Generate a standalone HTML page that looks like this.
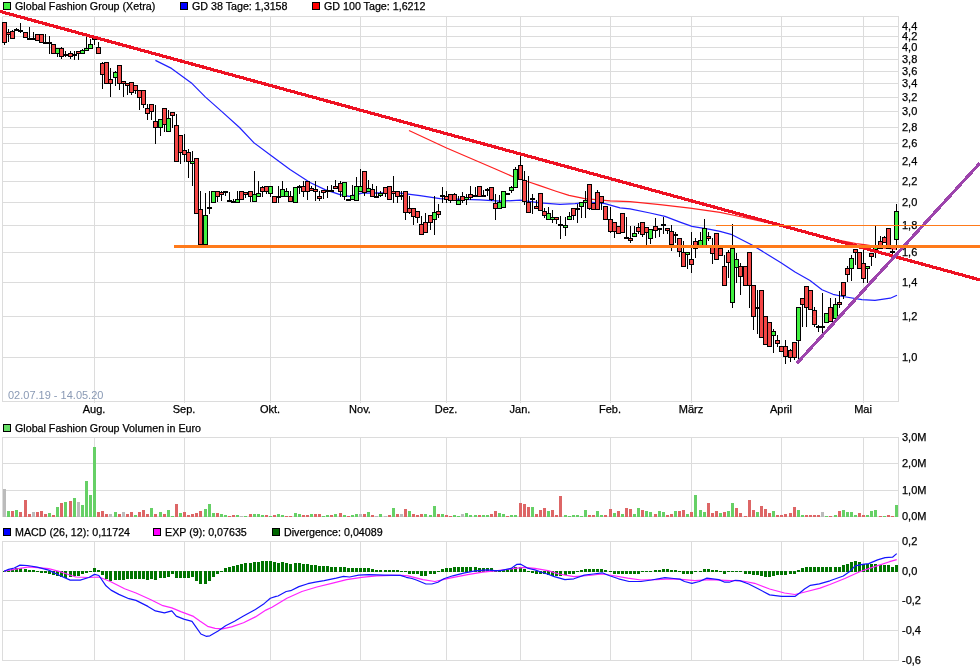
<!DOCTYPE html><html><head><meta charset="utf-8"><style>
html,body{margin:0;padding:0;background:#fff;width:980px;height:670px;overflow:hidden}
svg{display:block}
text{font-family:"Liberation Sans",sans-serif;fill:#000;stroke:#000;stroke-width:0.25px}
.lg{font-size:10.7px}.ax{font-size:11px}
</style></head><body>
<svg width="980" height="670" viewBox="0 0 980 670">
<rect width="980" height="670" fill="#fff"/>
<g shape-rendering="crispEdges"><rect x="2" y="357" width="897" height="1" fill="#dcdcdc"/><rect x="2" y="316" width="897" height="1" fill="#dcdcdc"/><rect x="2" y="282" width="897" height="1" fill="#dcdcdc"/><rect x="2" y="252" width="897" height="1" fill="#dcdcdc"/><rect x="2" y="225" width="897" height="1" fill="#dcdcdc"/><rect x="2" y="202" width="897" height="1" fill="#dcdcdc"/><rect x="2" y="181" width="897" height="1" fill="#dcdcdc"/><rect x="2" y="161" width="897" height="1" fill="#dcdcdc"/><rect x="2" y="143" width="897" height="1" fill="#dcdcdc"/><rect x="2" y="127" width="897" height="1" fill="#dcdcdc"/><rect x="2" y="111" width="897" height="1" fill="#dcdcdc"/><rect x="2" y="97" width="897" height="1" fill="#dcdcdc"/><rect x="2" y="83" width="897" height="1" fill="#dcdcdc"/><rect x="2" y="71" width="897" height="1" fill="#dcdcdc"/><rect x="2" y="59" width="897" height="1" fill="#dcdcdc"/><rect x="2" y="47" width="897" height="1" fill="#dcdcdc"/><rect x="2" y="36" width="897" height="1" fill="#dcdcdc"/><rect x="2" y="26" width="897" height="1" fill="#dcdcdc"/><rect x="94" y="16" width="1" height="387" fill="#dcdcdc"/><rect x="184" y="16" width="1" height="387" fill="#dcdcdc"/><rect x="270" y="16" width="1" height="387" fill="#dcdcdc"/><rect x="360" y="16" width="1" height="387" fill="#dcdcdc"/><rect x="446" y="16" width="1" height="387" fill="#dcdcdc"/><rect x="520" y="16" width="1" height="387" fill="#dcdcdc"/><rect x="610" y="16" width="1" height="387" fill="#dcdcdc"/><rect x="691" y="16" width="1" height="387" fill="#dcdcdc"/><rect x="781" y="16" width="1" height="387" fill="#dcdcdc"/><rect x="863" y="16" width="1" height="387" fill="#dcdcdc"/><rect x="2" y="16" width="897" height="1" fill="#dcdcdc"/><rect x="2" y="401" width="897" height="1" fill="#dcdcdc"/><rect x="2" y="16" width="1" height="386" fill="#dcdcdc"/><rect x="898" y="16" width="1" height="386" fill="#dcdcdc"/><rect x="2" y="437" width="897" height="1" fill="#dcdcdc"/><rect x="2" y="463" width="897" height="1" fill="#dcdcdc"/><rect x="2" y="490" width="897" height="1" fill="#dcdcdc"/><rect x="2" y="516" width="897" height="1" fill="#dcdcdc"/><rect x="94" y="437" width="1" height="80" fill="#dcdcdc"/><rect x="184" y="437" width="1" height="80" fill="#dcdcdc"/><rect x="270" y="437" width="1" height="80" fill="#dcdcdc"/><rect x="360" y="437" width="1" height="80" fill="#dcdcdc"/><rect x="446" y="437" width="1" height="80" fill="#dcdcdc"/><rect x="520" y="437" width="1" height="80" fill="#dcdcdc"/><rect x="610" y="437" width="1" height="80" fill="#dcdcdc"/><rect x="691" y="437" width="1" height="80" fill="#dcdcdc"/><rect x="781" y="437" width="1" height="80" fill="#dcdcdc"/><rect x="863" y="437" width="1" height="80" fill="#dcdcdc"/><rect x="2" y="437" width="1" height="80" fill="#dcdcdc"/><rect x="898" y="437" width="1" height="80" fill="#dcdcdc"/><rect x="2" y="541" width="897" height="1" fill="#dcdcdc"/><rect x="2" y="571" width="897" height="1" fill="#dcdcdc"/><rect x="2" y="600" width="897" height="1" fill="#dcdcdc"/><rect x="2" y="630" width="897" height="1" fill="#dcdcdc"/><rect x="2" y="660" width="897" height="1" fill="#dcdcdc"/><rect x="94" y="541" width="1" height="120" fill="#dcdcdc"/><rect x="184" y="541" width="1" height="120" fill="#dcdcdc"/><rect x="270" y="541" width="1" height="120" fill="#dcdcdc"/><rect x="360" y="541" width="1" height="120" fill="#dcdcdc"/><rect x="446" y="541" width="1" height="120" fill="#dcdcdc"/><rect x="520" y="541" width="1" height="120" fill="#dcdcdc"/><rect x="610" y="541" width="1" height="120" fill="#dcdcdc"/><rect x="691" y="541" width="1" height="120" fill="#dcdcdc"/><rect x="781" y="541" width="1" height="120" fill="#dcdcdc"/><rect x="863" y="541" width="1" height="120" fill="#dcdcdc"/><rect x="2" y="541" width="1" height="120" fill="#dcdcdc"/><rect x="898" y="541" width="1" height="120" fill="#dcdcdc"/></g>
<text class="ax" x="902" y="360.5">1,0</text><text class="ax" x="902" y="319.5">1,2</text><text class="ax" x="902" y="285.5">1,4</text><text class="ax" x="902" y="255.5">1,6</text><text class="ax" x="902" y="228.5">1,8</text><text class="ax" x="902" y="205.5">2,0</text><text class="ax" x="902" y="184.5">2,2</text><text class="ax" x="902" y="164.5">2,4</text><text class="ax" x="902" y="146.5">2,6</text><text class="ax" x="902" y="130.5">2,8</text><text class="ax" x="902" y="114.5">3,0</text><text class="ax" x="902" y="100.5">3,2</text><text class="ax" x="902" y="86.5">3,4</text><text class="ax" x="902" y="74.5">3,6</text><text class="ax" x="902" y="62.5">3,8</text><text class="ax" x="902" y="50.5">4,0</text><text class="ax" x="902" y="39.5">4,2</text><text class="ax" x="902" y="29.5">4,4</text><text class="ax" x="94" y="413" text-anchor="middle">Aug.</text><text class="ax" x="184" y="413" text-anchor="middle">Sep.</text><text class="ax" x="270" y="413" text-anchor="middle">Okt.</text><text class="ax" x="360" y="413" text-anchor="middle">Nov.</text><text class="ax" x="446" y="413" text-anchor="middle">Dez.</text><text class="ax" x="520" y="413" text-anchor="middle">Jan.</text><text class="ax" x="610" y="413" text-anchor="middle">Feb.</text><text class="ax" x="691" y="413" text-anchor="middle">März</text><text class="ax" x="781" y="413" text-anchor="middle">April</text><text class="ax" x="863" y="413" text-anchor="middle">Mai</text><text class="ax" x="902" y="440.5">3,0M</text><text class="ax" x="902" y="466.5">2,0M</text><text class="ax" x="902" y="493.5">1,0M</text><text class="ax" x="902" y="519.5">0,0M</text><text class="ax" x="902" y="544.5">0,2</text><text class="ax" x="902" y="574.5">0,0</text><text class="ax" x="902" y="603.5">-0,2</text><text class="ax" x="902" y="633.5">-0,4</text><text class="ax" x="902" y="663.5">-0,6</text><text class="ax" x="8" y="398.5" style="fill:#8a9ab5;stroke:none">02.07.19 - 14.05.20</text>
<rect x="3.5" y="2.5" width="7" height="7" fill="#40f040" stroke="#000" stroke-width="1" shape-rendering="crispEdges"/><text class="lg" x="15" y="9.8">Global Fashion Group (Xetra)</text>
<rect x="180.5" y="2.5" width="7" height="7" fill="#0000ff" stroke="#000" stroke-width="1" shape-rendering="crispEdges"/><text class="lg" x="192" y="9.8">GD 38 Tage: 1,3158</text>
<rect x="312.5" y="2.5" width="7" height="7" fill="#ff0000" stroke="#000" stroke-width="1" shape-rendering="crispEdges"/><text class="lg" x="324" y="9.8">GD 100 Tage: 1,6212</text>
<rect x="3.5" y="424.5" width="7" height="7" fill="#66dd66" stroke="#000" stroke-width="1" shape-rendering="crispEdges"/><text class="lg" x="15" y="431.8">Global Fashion Group Volumen in Euro</text>
<rect x="3.5" y="528.5" width="7" height="7" fill="#0000ff" stroke="#000" stroke-width="1" shape-rendering="crispEdges"/><text class="lg" x="15" y="535.8">MACD (26, 12): 0,11724</text>
<rect x="153.5" y="528.5" width="7" height="7" fill="#ff00ff" stroke="#000" stroke-width="1" shape-rendering="crispEdges"/><text class="lg" x="165" y="535.8">EXP (9): 0,07635</text>
<rect x="272.5" y="528.5" width="7" height="7" fill="#006600" stroke="#000" stroke-width="1" shape-rendering="crispEdges"/><text class="lg" x="284" y="535.8">Divergence: 0,04089</text>
<polyline points="155.4,60.4 171.5,68.4 192.1,83.6 205.5,97.1 221.6,111.4 239.5,127.5 253.8,142.7 271.7,156.1 290.0,169.6 310.0,182.5 325.0,189.6 340.0,194.6 349.4,196.3 362.0,193.1 380.0,192.9 400.0,193.2 420.0,195.7 440.0,198.6 480.0,199.8 500.0,201.2 520.0,200.2 540.0,202.9 560.0,204.3 575.0,203.6 590.0,202.0 605.0,203.6 620.0,207.9 630.0,208.9 650.0,213.0 665.0,216.4 680.0,222.1 692.0,226.4 710.0,229.3 720.0,231.4 731.0,234.3 752.0,245.0 781.0,262.7 795.0,271.9 810.0,280.5 822.0,289.8 833.0,294.3 843.0,296.5 861.9,299.7 875.0,300.3 890.3,298.2 897.0,295.3" fill="none" stroke="#2020ff" stroke-width="1.2" stroke-linejoin="round" />
<polyline points="409.0,130.5 446.6,148.0 478.0,161.5 496.0,169.2 512.5,176.5 529.0,182.0 539.0,185.4 556.0,191.2 569.0,195.4 584.7,198.6 596.0,199.7 610.0,200.8 630.0,201.6 660.0,204.6 690.0,208.1 720.0,212.4 735.0,215.5 780.0,225.5 828.0,238.0 856.0,243.6 866.0,244.8 885.0,248.1 897.0,249.2" fill="none" stroke="#ff2020" stroke-width="1.2" stroke-linejoin="round" />
<g shape-rendering="crispEdges"><rect x="4" y="22" width="1" height="23" fill="#000"/><rect x="2" y="22" width="5" height="21" fill="#000"/><rect x="3" y="23" width="3" height="19" fill="#f44646"/><rect x="8" y="29" width="1" height="13" fill="#000"/><rect x="6" y="32" width="5" height="3" fill="#000"/><rect x="7" y="33" width="3" height="1" fill="#f44646"/><rect x="12" y="30" width="1" height="9" fill="#000"/><rect x="10" y="31" width="5" height="8" fill="#000"/><rect x="11" y="32" width="3" height="6" fill="#f44646"/><rect x="16" y="28" width="1" height="3" fill="#000"/><rect x="14" y="29" width="5" height="2" fill="#000"/><rect x="20" y="23" width="1" height="10" fill="#000"/><rect x="18" y="30" width="5" height="2" fill="#000"/><rect x="25" y="32" width="1" height="6" fill="#000"/><rect x="23" y="32" width="5" height="6" fill="#000"/><rect x="24" y="33" width="3" height="4" fill="#f44646"/><rect x="29" y="27" width="1" height="13" fill="#000"/><rect x="27" y="38" width="5" height="2" fill="#000"/><rect x="33" y="32" width="1" height="8" fill="#000"/><rect x="31" y="38" width="5" height="2" fill="#000"/><rect x="37" y="34" width="1" height="7" fill="#000"/><rect x="35" y="34" width="5" height="7" fill="#000"/><rect x="36" y="35" width="3" height="5" fill="#f44646"/><rect x="41" y="34" width="1" height="9" fill="#000"/><rect x="39" y="34" width="5" height="9" fill="#000"/><rect x="40" y="35" width="3" height="7" fill="#f44646"/><rect x="45" y="34" width="1" height="10" fill="#000"/><rect x="43" y="42" width="5" height="2" fill="#000"/><rect x="49" y="36" width="1" height="18" fill="#000"/><rect x="47" y="42" width="5" height="2" fill="#000"/><rect x="53" y="44" width="1" height="10" fill="#000"/><rect x="51" y="44" width="5" height="10" fill="#000"/><rect x="52" y="45" width="3" height="8" fill="#f44646"/><rect x="57" y="48" width="1" height="9" fill="#000"/><rect x="55" y="48" width="5" height="6" fill="#000"/><rect x="56" y="49" width="3" height="4" fill="#40f040"/><rect x="61" y="47" width="1" height="12" fill="#000"/><rect x="59" y="48" width="5" height="9" fill="#000"/><rect x="60" y="49" width="3" height="7" fill="#f44646"/><rect x="65" y="51" width="1" height="6" fill="#000"/><rect x="63" y="54" width="5" height="2" fill="#000"/><rect x="70" y="51" width="1" height="8" fill="#000"/><rect x="68" y="53" width="5" height="4" fill="#000"/><rect x="69" y="54" width="3" height="2" fill="#f44646"/><rect x="74" y="51" width="1" height="9" fill="#000"/><rect x="72" y="54" width="5" height="2" fill="#000"/><rect x="78" y="51" width="1" height="9" fill="#000"/><rect x="76" y="51" width="5" height="3" fill="#000"/><rect x="77" y="52" width="3" height="1" fill="#f44646"/><rect x="82" y="49" width="1" height="5" fill="#000"/><rect x="80" y="50" width="5" height="4" fill="#000"/><rect x="81" y="51" width="3" height="2" fill="#40f040"/><rect x="86" y="37" width="1" height="14" fill="#000"/><rect x="84" y="48" width="5" height="3" fill="#000"/><rect x="85" y="49" width="3" height="1" fill="#40f040"/><rect x="90" y="39" width="1" height="10" fill="#000"/><rect x="88" y="44" width="5" height="5" fill="#000"/><rect x="89" y="45" width="3" height="3" fill="#40f040"/><rect x="94" y="37" width="1" height="8" fill="#000"/><rect x="92" y="38" width="5" height="2" fill="#000"/><rect x="98" y="42" width="1" height="12" fill="#000"/><rect x="96" y="47" width="5" height="7" fill="#000"/><rect x="97" y="48" width="3" height="5" fill="#f44646"/><rect x="102" y="62" width="1" height="27" fill="#000"/><rect x="100" y="63" width="5" height="12" fill="#000"/><rect x="101" y="64" width="3" height="10" fill="#f44646"/><rect x="106" y="62" width="1" height="22" fill="#000"/><rect x="104" y="62" width="5" height="22" fill="#000"/><rect x="105" y="63" width="3" height="20" fill="#f44646"/><rect x="110" y="68" width="1" height="29" fill="#000"/><rect x="108" y="79" width="5" height="5" fill="#000"/><rect x="109" y="80" width="3" height="3" fill="#f44646"/><rect x="115" y="71" width="1" height="15" fill="#000"/><rect x="113" y="72" width="5" height="6" fill="#000"/><rect x="114" y="73" width="3" height="4" fill="#40f040"/><rect x="119" y="65" width="1" height="25" fill="#000"/><rect x="117" y="65" width="5" height="19" fill="#000"/><rect x="118" y="66" width="3" height="17" fill="#f44646"/><rect x="123" y="81" width="1" height="16" fill="#000"/><rect x="121" y="81" width="5" height="3" fill="#000"/><rect x="122" y="82" width="3" height="1" fill="#f44646"/><rect x="127" y="83" width="1" height="12" fill="#000"/><rect x="125" y="83" width="5" height="3" fill="#000"/><rect x="126" y="84" width="3" height="1" fill="#f44646"/><rect x="131" y="82" width="1" height="13" fill="#000"/><rect x="129" y="82" width="5" height="11" fill="#000"/><rect x="130" y="83" width="3" height="9" fill="#f44646"/><rect x="135" y="85" width="1" height="9" fill="#000"/><rect x="133" y="85" width="5" height="6" fill="#000"/><rect x="134" y="86" width="3" height="4" fill="#f44646"/><rect x="139" y="90" width="1" height="20" fill="#000"/><rect x="137" y="90" width="5" height="8" fill="#000"/><rect x="138" y="91" width="3" height="6" fill="#f44646"/><rect x="143" y="90" width="1" height="18" fill="#000"/><rect x="141" y="90" width="5" height="15" fill="#000"/><rect x="142" y="91" width="3" height="13" fill="#f44646"/><rect x="147" y="104" width="1" height="16" fill="#000"/><rect x="145" y="108" width="5" height="6" fill="#000"/><rect x="146" y="109" width="3" height="4" fill="#f44646"/><rect x="151" y="104" width="1" height="16" fill="#000"/><rect x="149" y="104" width="5" height="8" fill="#000"/><rect x="150" y="105" width="3" height="6" fill="#f44646"/><rect x="155" y="105" width="1" height="39" fill="#000"/><rect x="153" y="121" width="5" height="7" fill="#000"/><rect x="154" y="122" width="3" height="5" fill="#f44646"/><rect x="160" y="119" width="1" height="17" fill="#000"/><rect x="158" y="119" width="5" height="9" fill="#000"/><rect x="159" y="120" width="3" height="7" fill="#40f040"/><rect x="164" y="108" width="1" height="24" fill="#000"/><rect x="162" y="108" width="5" height="17" fill="#000"/><rect x="163" y="109" width="3" height="15" fill="#f44646"/><rect x="168" y="110" width="1" height="22" fill="#000"/><rect x="166" y="118" width="5" height="14" fill="#000"/><rect x="167" y="119" width="3" height="12" fill="#40f040"/><rect x="172" y="112" width="1" height="16" fill="#000"/><rect x="170" y="112" width="5" height="4" fill="#000"/><rect x="171" y="113" width="3" height="2" fill="#f44646"/><rect x="176" y="114" width="1" height="48" fill="#000"/><rect x="174" y="125" width="5" height="37" fill="#000"/><rect x="175" y="126" width="3" height="35" fill="#f44646"/><rect x="180" y="135" width="1" height="29" fill="#000"/><rect x="178" y="135" width="5" height="18" fill="#000"/><rect x="179" y="136" width="3" height="16" fill="#f44646"/><rect x="184" y="134" width="1" height="28" fill="#000"/><rect x="182" y="150" width="5" height="5" fill="#000"/><rect x="183" y="151" width="3" height="3" fill="#f44646"/><rect x="188" y="149" width="1" height="29" fill="#000"/><rect x="186" y="152" width="5" height="10" fill="#000"/><rect x="187" y="153" width="3" height="8" fill="#f44646"/><rect x="192" y="151" width="1" height="35" fill="#000"/><rect x="190" y="161" width="5" height="3" fill="#000"/><rect x="191" y="162" width="3" height="1" fill="#40f040"/><rect x="196" y="158" width="1" height="56" fill="#000"/><rect x="194" y="158" width="5" height="56" fill="#000"/><rect x="195" y="159" width="3" height="54" fill="#f44646"/><rect x="200" y="191" width="1" height="54" fill="#000"/><rect x="198" y="209" width="5" height="36" fill="#000"/><rect x="199" y="210" width="3" height="34" fill="#f44646"/><rect x="205" y="193" width="1" height="52" fill="#000"/><rect x="203" y="215" width="5" height="30" fill="#000"/><rect x="204" y="216" width="3" height="28" fill="#40f040"/><rect x="209" y="191" width="1" height="23" fill="#000"/><rect x="207" y="207" width="5" height="2" fill="#000"/><rect x="213" y="191" width="1" height="12" fill="#000"/><rect x="211" y="191" width="5" height="12" fill="#000"/><rect x="212" y="192" width="3" height="10" fill="#40f040"/><rect x="217" y="191" width="1" height="11" fill="#000"/><rect x="215" y="191" width="5" height="6" fill="#000"/><rect x="216" y="192" width="3" height="4" fill="#f44646"/><rect x="221" y="191" width="1" height="10" fill="#000"/><rect x="219" y="192" width="5" height="3" fill="#000"/><rect x="220" y="193" width="3" height="1" fill="#f44646"/><rect x="225" y="191" width="1" height="5" fill="#000"/><rect x="223" y="191" width="5" height="2" fill="#000"/><rect x="229" y="192" width="1" height="10" fill="#000"/><rect x="227" y="200" width="5" height="2" fill="#000"/><rect x="233" y="199" width="1" height="4" fill="#000"/><rect x="231" y="201" width="5" height="2" fill="#000"/><rect x="237" y="191" width="1" height="12" fill="#000"/><rect x="235" y="199" width="5" height="4" fill="#000"/><rect x="236" y="200" width="3" height="2" fill="#40f040"/><rect x="241" y="191" width="1" height="9" fill="#000"/><rect x="239" y="191" width="5" height="9" fill="#000"/><rect x="240" y="192" width="3" height="7" fill="#f44646"/><rect x="245" y="192" width="1" height="6" fill="#000"/><rect x="243" y="192" width="5" height="3" fill="#000"/><rect x="244" y="193" width="3" height="1" fill="#f44646"/><rect x="250" y="191" width="1" height="11" fill="#000"/><rect x="248" y="191" width="5" height="6" fill="#000"/><rect x="249" y="192" width="3" height="4" fill="#f44646"/><rect x="254" y="171" width="1" height="31" fill="#000"/><rect x="252" y="194" width="5" height="8" fill="#000"/><rect x="253" y="195" width="3" height="6" fill="#40f040"/><rect x="258" y="181" width="1" height="16" fill="#000"/><rect x="256" y="193" width="5" height="4" fill="#000"/><rect x="257" y="194" width="3" height="2" fill="#40f040"/><rect x="262" y="186" width="1" height="11" fill="#000"/><rect x="260" y="187" width="5" height="5" fill="#000"/><rect x="261" y="188" width="3" height="3" fill="#f44646"/><rect x="266" y="186" width="1" height="8" fill="#000"/><rect x="264" y="186" width="5" height="6" fill="#000"/><rect x="265" y="187" width="3" height="4" fill="#f44646"/><rect x="270" y="186" width="1" height="11" fill="#000"/><rect x="268" y="186" width="5" height="8" fill="#000"/><rect x="269" y="187" width="3" height="6" fill="#40f040"/><rect x="274" y="196" width="1" height="7" fill="#000"/><rect x="272" y="196" width="5" height="7" fill="#000"/><rect x="273" y="197" width="3" height="5" fill="#f44646"/><rect x="278" y="186" width="1" height="17" fill="#000"/><rect x="276" y="196" width="5" height="2" fill="#000"/><rect x="282" y="181" width="1" height="16" fill="#000"/><rect x="280" y="189" width="5" height="8" fill="#000"/><rect x="281" y="190" width="3" height="6" fill="#40f040"/><rect x="286" y="188" width="1" height="9" fill="#000"/><rect x="284" y="191" width="5" height="6" fill="#000"/><rect x="285" y="192" width="3" height="4" fill="#40f040"/><rect x="290" y="191" width="1" height="11" fill="#000"/><rect x="288" y="196" width="5" height="6" fill="#000"/><rect x="289" y="197" width="3" height="4" fill="#f44646"/><rect x="295" y="187" width="1" height="16" fill="#000"/><rect x="293" y="187" width="5" height="16" fill="#000"/><rect x="294" y="188" width="3" height="14" fill="#40f040"/><rect x="299" y="185" width="1" height="9" fill="#000"/><rect x="297" y="186" width="5" height="2" fill="#000"/><rect x="303" y="181" width="1" height="16" fill="#000"/><rect x="301" y="186" width="5" height="6" fill="#000"/><rect x="302" y="187" width="3" height="4" fill="#f44646"/><rect x="307" y="181" width="1" height="19" fill="#000"/><rect x="305" y="181" width="5" height="11" fill="#000"/><rect x="306" y="182" width="3" height="9" fill="#f44646"/><rect x="311" y="186" width="1" height="5" fill="#000"/><rect x="309" y="188" width="5" height="3" fill="#000"/><rect x="310" y="189" width="3" height="1" fill="#f44646"/><rect x="315" y="181" width="1" height="20" fill="#000"/><rect x="313" y="189" width="5" height="3" fill="#000"/><rect x="314" y="190" width="3" height="1" fill="#f44646"/><rect x="319" y="191" width="1" height="10" fill="#000"/><rect x="317" y="196" width="5" height="3" fill="#000"/><rect x="318" y="197" width="3" height="1" fill="#f44646"/><rect x="323" y="190" width="1" height="9" fill="#000"/><rect x="321" y="190" width="5" height="3" fill="#000"/><rect x="322" y="191" width="3" height="1" fill="#f44646"/><rect x="327" y="186" width="1" height="12" fill="#000"/><rect x="325" y="190" width="5" height="2" fill="#000"/><rect x="331" y="185" width="1" height="7" fill="#000"/><rect x="329" y="190" width="5" height="2" fill="#000"/><rect x="335" y="180" width="1" height="9" fill="#000"/><rect x="333" y="186" width="5" height="3" fill="#000"/><rect x="334" y="187" width="3" height="1" fill="#f44646"/><rect x="340" y="181" width="1" height="16" fill="#000"/><rect x="338" y="183" width="5" height="9" fill="#000"/><rect x="339" y="184" width="3" height="7" fill="#f44646"/><rect x="344" y="182" width="1" height="18" fill="#000"/><rect x="342" y="182" width="5" height="15" fill="#000"/><rect x="343" y="183" width="3" height="13" fill="#40f040"/><rect x="348" y="199" width="1" height="2" fill="#000"/><rect x="346" y="199" width="5" height="2" fill="#000"/><rect x="352" y="185" width="1" height="15" fill="#000"/><rect x="350" y="195" width="5" height="5" fill="#000"/><rect x="351" y="196" width="3" height="3" fill="#40f040"/><rect x="356" y="177" width="1" height="24" fill="#000"/><rect x="354" y="186" width="5" height="15" fill="#000"/><rect x="355" y="187" width="3" height="13" fill="#40f040"/><rect x="360" y="169" width="1" height="23" fill="#000"/><rect x="358" y="186" width="5" height="6" fill="#000"/><rect x="359" y="187" width="3" height="4" fill="#40f040"/><rect x="364" y="171" width="1" height="25" fill="#000"/><rect x="362" y="171" width="5" height="22" fill="#000"/><rect x="363" y="172" width="3" height="20" fill="#f44646"/><rect x="368" y="180" width="1" height="12" fill="#000"/><rect x="366" y="188" width="5" height="4" fill="#000"/><rect x="367" y="189" width="3" height="2" fill="#40f040"/><rect x="372" y="184" width="1" height="13" fill="#000"/><rect x="370" y="189" width="5" height="8" fill="#000"/><rect x="371" y="190" width="3" height="6" fill="#f44646"/><rect x="376" y="186" width="1" height="12" fill="#000"/><rect x="374" y="196" width="5" height="2" fill="#000"/><rect x="380" y="191" width="1" height="6" fill="#000"/><rect x="378" y="193" width="5" height="3" fill="#000"/><rect x="379" y="194" width="3" height="1" fill="#40f040"/><rect x="385" y="187" width="1" height="10" fill="#000"/><rect x="383" y="187" width="5" height="7" fill="#000"/><rect x="384" y="188" width="3" height="5" fill="#f44646"/><rect x="389" y="186" width="1" height="14" fill="#000"/><rect x="387" y="186" width="5" height="14" fill="#000"/><rect x="388" y="187" width="3" height="12" fill="#f44646"/><rect x="393" y="176" width="1" height="27" fill="#000"/><rect x="391" y="191" width="5" height="3" fill="#000"/><rect x="392" y="192" width="3" height="1" fill="#f44646"/><rect x="397" y="191" width="1" height="12" fill="#000"/><rect x="395" y="191" width="5" height="6" fill="#000"/><rect x="396" y="192" width="3" height="4" fill="#f44646"/><rect x="401" y="191" width="1" height="9" fill="#000"/><rect x="399" y="195" width="5" height="2" fill="#000"/><rect x="405" y="191" width="1" height="29" fill="#000"/><rect x="403" y="191" width="5" height="22" fill="#000"/><rect x="404" y="192" width="3" height="20" fill="#f44646"/><rect x="409" y="196" width="1" height="18" fill="#000"/><rect x="407" y="208" width="5" height="5" fill="#000"/><rect x="408" y="209" width="3" height="3" fill="#f44646"/><rect x="413" y="208" width="1" height="17" fill="#000"/><rect x="411" y="208" width="5" height="9" fill="#000"/><rect x="412" y="209" width="3" height="7" fill="#f44646"/><rect x="417" y="211" width="1" height="12" fill="#000"/><rect x="415" y="211" width="5" height="7" fill="#000"/><rect x="416" y="212" width="3" height="5" fill="#f44646"/><rect x="421" y="216" width="1" height="19" fill="#000"/><rect x="419" y="224" width="5" height="11" fill="#000"/><rect x="420" y="225" width="3" height="9" fill="#f44646"/><rect x="425" y="213" width="1" height="20" fill="#000"/><rect x="423" y="222" width="5" height="11" fill="#000"/><rect x="424" y="223" width="3" height="9" fill="#f44646"/><rect x="430" y="215" width="1" height="15" fill="#000"/><rect x="428" y="215" width="5" height="8" fill="#000"/><rect x="429" y="216" width="3" height="6" fill="#f44646"/><rect x="434" y="196" width="1" height="39" fill="#000"/><rect x="432" y="212" width="5" height="8" fill="#000"/><rect x="433" y="213" width="3" height="6" fill="#40f040"/><rect x="438" y="204" width="1" height="14" fill="#000"/><rect x="436" y="211" width="5" height="4" fill="#000"/><rect x="437" y="212" width="3" height="2" fill="#f44646"/><rect x="442" y="187" width="1" height="16" fill="#000"/><rect x="440" y="195" width="5" height="2" fill="#000"/><rect x="446" y="191" width="1" height="12" fill="#000"/><rect x="444" y="196" width="5" height="4" fill="#000"/><rect x="445" y="197" width="3" height="2" fill="#f44646"/><rect x="450" y="194" width="1" height="9" fill="#000"/><rect x="448" y="194" width="5" height="7" fill="#000"/><rect x="449" y="195" width="3" height="5" fill="#f44646"/><rect x="454" y="193" width="1" height="8" fill="#000"/><rect x="452" y="194" width="5" height="7" fill="#000"/><rect x="453" y="195" width="3" height="5" fill="#f44646"/><rect x="458" y="196" width="1" height="9" fill="#000"/><rect x="456" y="200" width="5" height="5" fill="#000"/><rect x="457" y="201" width="3" height="3" fill="#40f040"/><rect x="462" y="192" width="1" height="11" fill="#000"/><rect x="460" y="196" width="5" height="5" fill="#000"/><rect x="461" y="197" width="3" height="3" fill="#f44646"/><rect x="466" y="194" width="1" height="11" fill="#000"/><rect x="464" y="197" width="5" height="3" fill="#000"/><rect x="465" y="198" width="3" height="1" fill="#40f040"/><rect x="470" y="186" width="1" height="14" fill="#000"/><rect x="468" y="194" width="5" height="4" fill="#000"/><rect x="469" y="195" width="3" height="2" fill="#f44646"/><rect x="475" y="187" width="1" height="10" fill="#000"/><rect x="473" y="195" width="5" height="2" fill="#000"/><rect x="479" y="186" width="1" height="11" fill="#000"/><rect x="477" y="186" width="5" height="11" fill="#000"/><rect x="478" y="187" width="3" height="9" fill="#f44646"/><rect x="483" y="190" width="1" height="7" fill="#000"/><rect x="481" y="195" width="5" height="2" fill="#000"/><rect x="487" y="188" width="1" height="8" fill="#000"/><rect x="485" y="189" width="5" height="2" fill="#000"/><rect x="491" y="187" width="1" height="14" fill="#000"/><rect x="489" y="187" width="5" height="13" fill="#000"/><rect x="490" y="188" width="3" height="11" fill="#f44646"/><rect x="495" y="194" width="1" height="26" fill="#000"/><rect x="493" y="203" width="5" height="6" fill="#000"/><rect x="494" y="204" width="3" height="4" fill="#f44646"/><rect x="499" y="195" width="1" height="14" fill="#000"/><rect x="497" y="202" width="5" height="7" fill="#000"/><rect x="498" y="203" width="3" height="5" fill="#40f040"/><rect x="503" y="191" width="1" height="17" fill="#000"/><rect x="501" y="191" width="5" height="17" fill="#000"/><rect x="502" y="192" width="3" height="15" fill="#40f040"/><rect x="507" y="193" width="1" height="2" fill="#000"/><rect x="505" y="193" width="5" height="2" fill="#000"/><rect x="511" y="186" width="1" height="7" fill="#000"/><rect x="509" y="187" width="5" height="4" fill="#000"/><rect x="510" y="188" width="3" height="2" fill="#40f040"/><rect x="515" y="167" width="1" height="21" fill="#000"/><rect x="513" y="169" width="5" height="19" fill="#000"/><rect x="514" y="170" width="3" height="17" fill="#40f040"/><rect x="520" y="155" width="1" height="25" fill="#000"/><rect x="518" y="165" width="5" height="15" fill="#000"/><rect x="519" y="166" width="3" height="13" fill="#f44646"/><rect x="524" y="171" width="1" height="34" fill="#000"/><rect x="522" y="180" width="5" height="22" fill="#000"/><rect x="523" y="181" width="3" height="20" fill="#f44646"/><rect x="528" y="176" width="1" height="37" fill="#000"/><rect x="526" y="202" width="5" height="11" fill="#000"/><rect x="527" y="203" width="3" height="9" fill="#f44646"/><rect x="532" y="194" width="1" height="20" fill="#000"/><rect x="530" y="198" width="5" height="2" fill="#000"/><rect x="536" y="200" width="1" height="9" fill="#000"/><rect x="534" y="206" width="5" height="3" fill="#000"/><rect x="535" y="207" width="3" height="1" fill="#f44646"/><rect x="540" y="193" width="1" height="18" fill="#000"/><rect x="538" y="193" width="5" height="18" fill="#000"/><rect x="539" y="194" width="3" height="16" fill="#f44646"/><rect x="544" y="208" width="1" height="10" fill="#000"/><rect x="542" y="211" width="5" height="5" fill="#000"/><rect x="543" y="212" width="3" height="3" fill="#f44646"/><rect x="548" y="207" width="1" height="13" fill="#000"/><rect x="546" y="213" width="5" height="7" fill="#000"/><rect x="547" y="214" width="3" height="5" fill="#40f040"/><rect x="552" y="210" width="1" height="13" fill="#000"/><rect x="550" y="217" width="5" height="3" fill="#000"/><rect x="551" y="218" width="3" height="1" fill="#40f040"/><rect x="556" y="217" width="1" height="7" fill="#000"/><rect x="554" y="217" width="5" height="3" fill="#000"/><rect x="555" y="218" width="3" height="1" fill="#f44646"/><rect x="560" y="216" width="1" height="23" fill="#000"/><rect x="558" y="224" width="5" height="2" fill="#000"/><rect x="565" y="217" width="1" height="19" fill="#000"/><rect x="563" y="225" width="5" height="3" fill="#000"/><rect x="564" y="226" width="3" height="1" fill="#40f040"/><rect x="569" y="212" width="1" height="8" fill="#000"/><rect x="567" y="216" width="5" height="4" fill="#000"/><rect x="568" y="217" width="3" height="2" fill="#40f040"/><rect x="573" y="208" width="1" height="12" fill="#000"/><rect x="571" y="208" width="5" height="8" fill="#000"/><rect x="572" y="209" width="3" height="6" fill="#f44646"/><rect x="577" y="204" width="1" height="19" fill="#000"/><rect x="575" y="208" width="5" height="2" fill="#000"/><rect x="581" y="202" width="1" height="16" fill="#000"/><rect x="579" y="202" width="5" height="5" fill="#000"/><rect x="580" y="203" width="3" height="3" fill="#40f040"/><rect x="585" y="191" width="1" height="27" fill="#000"/><rect x="583" y="200" width="5" height="3" fill="#000"/><rect x="584" y="201" width="3" height="1" fill="#40f040"/><rect x="589" y="184" width="1" height="26" fill="#000"/><rect x="587" y="184" width="5" height="25" fill="#000"/><rect x="588" y="185" width="3" height="23" fill="#f44646"/><rect x="593" y="203" width="1" height="7" fill="#000"/><rect x="591" y="203" width="5" height="7" fill="#000"/><rect x="592" y="204" width="3" height="5" fill="#f44646"/><rect x="597" y="190" width="1" height="20" fill="#000"/><rect x="595" y="192" width="5" height="18" fill="#000"/><rect x="596" y="193" width="3" height="16" fill="#f44646"/><rect x="601" y="196" width="1" height="14" fill="#000"/><rect x="599" y="196" width="5" height="7" fill="#000"/><rect x="600" y="197" width="3" height="5" fill="#f44646"/><rect x="605" y="206" width="1" height="14" fill="#000"/><rect x="603" y="206" width="5" height="14" fill="#000"/><rect x="604" y="207" width="3" height="12" fill="#f44646"/><rect x="610" y="207" width="1" height="26" fill="#000"/><rect x="608" y="219" width="5" height="13" fill="#000"/><rect x="609" y="220" width="3" height="11" fill="#f44646"/><rect x="614" y="222" width="1" height="16" fill="#000"/><rect x="612" y="222" width="5" height="10" fill="#000"/><rect x="613" y="223" width="3" height="8" fill="#f44646"/><rect x="618" y="226" width="1" height="8" fill="#000"/><rect x="616" y="226" width="5" height="8" fill="#000"/><rect x="617" y="227" width="3" height="6" fill="#f44646"/><rect x="622" y="213" width="1" height="20" fill="#000"/><rect x="620" y="213" width="5" height="20" fill="#000"/><rect x="621" y="214" width="3" height="18" fill="#f44646"/><rect x="626" y="217" width="1" height="22" fill="#000"/><rect x="624" y="237" width="5" height="2" fill="#000"/><rect x="630" y="226" width="1" height="17" fill="#000"/><rect x="628" y="238" width="5" height="3" fill="#000"/><rect x="629" y="239" width="3" height="1" fill="#f44646"/><rect x="634" y="226" width="1" height="11" fill="#000"/><rect x="632" y="233" width="5" height="4" fill="#000"/><rect x="633" y="234" width="3" height="2" fill="#40f040"/><rect x="638" y="223" width="1" height="11" fill="#000"/><rect x="636" y="227" width="5" height="5" fill="#000"/><rect x="637" y="228" width="3" height="3" fill="#f44646"/><rect x="642" y="222" width="1" height="15" fill="#000"/><rect x="640" y="222" width="5" height="13" fill="#000"/><rect x="641" y="223" width="3" height="11" fill="#f44646"/><rect x="646" y="227" width="1" height="18" fill="#000"/><rect x="644" y="227" width="5" height="6" fill="#000"/><rect x="645" y="228" width="3" height="4" fill="#f44646"/><rect x="650" y="229" width="1" height="15" fill="#000"/><rect x="648" y="229" width="5" height="10" fill="#000"/><rect x="649" y="230" width="3" height="8" fill="#40f040"/><rect x="655" y="218" width="1" height="20" fill="#000"/><rect x="653" y="226" width="5" height="5" fill="#000"/><rect x="654" y="227" width="3" height="3" fill="#f44646"/><rect x="659" y="228" width="1" height="9" fill="#000"/><rect x="657" y="228" width="5" height="2" fill="#000"/><rect x="663" y="217" width="1" height="17" fill="#000"/><rect x="661" y="224" width="5" height="2" fill="#000"/><rect x="667" y="228" width="1" height="6" fill="#000"/><rect x="665" y="228" width="5" height="3" fill="#000"/><rect x="666" y="229" width="3" height="1" fill="#f44646"/><rect x="671" y="225" width="1" height="26" fill="#000"/><rect x="669" y="231" width="5" height="14" fill="#000"/><rect x="670" y="232" width="3" height="12" fill="#f44646"/><rect x="675" y="232" width="1" height="11" fill="#000"/><rect x="673" y="234" width="5" height="2" fill="#000"/><rect x="679" y="238" width="1" height="19" fill="#000"/><rect x="677" y="238" width="5" height="14" fill="#000"/><rect x="678" y="239" width="3" height="12" fill="#f44646"/><rect x="683" y="241" width="1" height="26" fill="#000"/><rect x="681" y="252" width="5" height="15" fill="#000"/><rect x="682" y="253" width="3" height="13" fill="#f44646"/><rect x="687" y="252" width="1" height="17" fill="#000"/><rect x="685" y="252" width="5" height="3" fill="#000"/><rect x="686" y="253" width="3" height="1" fill="#40f040"/><rect x="691" y="232" width="1" height="41" fill="#000"/><rect x="689" y="259" width="5" height="6" fill="#000"/><rect x="690" y="260" width="3" height="4" fill="#f44646"/><rect x="695" y="238" width="1" height="20" fill="#000"/><rect x="693" y="241" width="5" height="8" fill="#000"/><rect x="694" y="242" width="3" height="6" fill="#f44646"/><rect x="700" y="232" width="1" height="14" fill="#000"/><rect x="698" y="240" width="5" height="6" fill="#000"/><rect x="699" y="241" width="3" height="4" fill="#40f040"/><rect x="704" y="219" width="1" height="27" fill="#000"/><rect x="702" y="228" width="5" height="18" fill="#000"/><rect x="703" y="229" width="3" height="16" fill="#40f040"/><rect x="708" y="232" width="1" height="9" fill="#000"/><rect x="706" y="236" width="5" height="3" fill="#000"/><rect x="707" y="237" width="3" height="1" fill="#f44646"/><rect x="712" y="238" width="1" height="26" fill="#000"/><rect x="710" y="245" width="5" height="9" fill="#000"/><rect x="711" y="246" width="3" height="7" fill="#f44646"/><rect x="716" y="233" width="1" height="27" fill="#000"/><rect x="714" y="233" width="5" height="27" fill="#000"/><rect x="715" y="234" width="3" height="25" fill="#f44646"/><rect x="720" y="248" width="1" height="8" fill="#000"/><rect x="718" y="248" width="5" height="8" fill="#000"/><rect x="719" y="249" width="3" height="6" fill="#f44646"/><rect x="724" y="255" width="1" height="31" fill="#000"/><rect x="722" y="266" width="5" height="20" fill="#000"/><rect x="723" y="267" width="3" height="18" fill="#f44646"/><rect x="728" y="250" width="1" height="28" fill="#000"/><rect x="726" y="252" width="5" height="11" fill="#000"/><rect x="727" y="253" width="3" height="9" fill="#f44646"/><rect x="732" y="224" width="1" height="84" fill="#000"/><rect x="730" y="248" width="5" height="55" fill="#000"/><rect x="731" y="249" width="3" height="53" fill="#40f040"/><rect x="736" y="253" width="1" height="30" fill="#000"/><rect x="734" y="259" width="5" height="9" fill="#000"/><rect x="735" y="260" width="3" height="7" fill="#40f040"/><rect x="740" y="263" width="1" height="32" fill="#000"/><rect x="738" y="266" width="5" height="11" fill="#000"/><rect x="739" y="267" width="3" height="9" fill="#f44646"/><rect x="745" y="266" width="1" height="20" fill="#000"/><rect x="743" y="266" width="5" height="20" fill="#000"/><rect x="744" y="267" width="3" height="18" fill="#f44646"/><rect x="749" y="252" width="1" height="56" fill="#000"/><rect x="747" y="252" width="5" height="34" fill="#000"/><rect x="748" y="253" width="3" height="32" fill="#f44646"/><rect x="753" y="285" width="1" height="45" fill="#000"/><rect x="751" y="285" width="5" height="32" fill="#000"/><rect x="752" y="286" width="3" height="30" fill="#f44646"/><rect x="757" y="290" width="1" height="44" fill="#000"/><rect x="755" y="307" width="5" height="2" fill="#000"/><rect x="761" y="290" width="1" height="48" fill="#000"/><rect x="759" y="290" width="5" height="48" fill="#000"/><rect x="760" y="291" width="3" height="46" fill="#f44646"/><rect x="765" y="316" width="1" height="29" fill="#000"/><rect x="763" y="316" width="5" height="29" fill="#000"/><rect x="764" y="317" width="3" height="27" fill="#f44646"/><rect x="769" y="322" width="1" height="25" fill="#000"/><rect x="767" y="322" width="5" height="25" fill="#000"/><rect x="768" y="323" width="3" height="23" fill="#f44646"/><rect x="773" y="329" width="1" height="24" fill="#000"/><rect x="771" y="331" width="5" height="5" fill="#000"/><rect x="772" y="332" width="3" height="3" fill="#40f040"/><rect x="777" y="335" width="1" height="12" fill="#000"/><rect x="775" y="340" width="5" height="4" fill="#000"/><rect x="776" y="341" width="3" height="2" fill="#f44646"/><rect x="781" y="346" width="1" height="6" fill="#000"/><rect x="779" y="346" width="5" height="6" fill="#000"/><rect x="780" y="347" width="3" height="4" fill="#f44646"/><rect x="785" y="340" width="1" height="24" fill="#000"/><rect x="783" y="346" width="5" height="11" fill="#000"/><rect x="784" y="347" width="3" height="9" fill="#f44646"/><rect x="790" y="349" width="1" height="13" fill="#000"/><rect x="788" y="350" width="5" height="8" fill="#000"/><rect x="789" y="351" width="3" height="6" fill="#f44646"/><rect x="794" y="342" width="1" height="18" fill="#000"/><rect x="792" y="342" width="5" height="16" fill="#000"/><rect x="793" y="343" width="3" height="14" fill="#f44646"/><rect x="798" y="307" width="1" height="53" fill="#000"/><rect x="796" y="307" width="5" height="34" fill="#000"/><rect x="797" y="308" width="3" height="32" fill="#40f040"/><rect x="802" y="298" width="1" height="29" fill="#000"/><rect x="800" y="298" width="5" height="7" fill="#000"/><rect x="801" y="299" width="3" height="5" fill="#f44646"/><rect x="806" y="286" width="1" height="41" fill="#000"/><rect x="804" y="286" width="5" height="22" fill="#000"/><rect x="805" y="287" width="3" height="20" fill="#f44646"/><rect x="810" y="290" width="1" height="20" fill="#000"/><rect x="808" y="290" width="5" height="20" fill="#000"/><rect x="809" y="291" width="3" height="18" fill="#f44646"/><rect x="814" y="307" width="1" height="20" fill="#000"/><rect x="812" y="310" width="5" height="15" fill="#000"/><rect x="813" y="311" width="3" height="13" fill="#f44646"/><rect x="818" y="325" width="1" height="7" fill="#000"/><rect x="816" y="326" width="5" height="2" fill="#000"/><rect x="822" y="293" width="1" height="40" fill="#000"/><rect x="820" y="326" width="5" height="2" fill="#000"/><rect x="826" y="313" width="1" height="10" fill="#000"/><rect x="824" y="313" width="5" height="10" fill="#000"/><rect x="825" y="314" width="3" height="8" fill="#40f040"/><rect x="830" y="298" width="1" height="24" fill="#000"/><rect x="828" y="307" width="5" height="15" fill="#000"/><rect x="829" y="308" width="3" height="13" fill="#f44646"/><rect x="835" y="298" width="1" height="21" fill="#000"/><rect x="833" y="304" width="5" height="15" fill="#000"/><rect x="834" y="305" width="3" height="13" fill="#40f040"/><rect x="839" y="291" width="1" height="17" fill="#000"/><rect x="837" y="302" width="5" height="3" fill="#000"/><rect x="838" y="303" width="3" height="1" fill="#f44646"/><rect x="843" y="282" width="1" height="17" fill="#000"/><rect x="841" y="282" width="5" height="14" fill="#000"/><rect x="842" y="283" width="3" height="12" fill="#f44646"/><rect x="847" y="266" width="1" height="16" fill="#000"/><rect x="845" y="268" width="5" height="7" fill="#000"/><rect x="846" y="269" width="3" height="5" fill="#f44646"/><rect x="851" y="255" width="1" height="26" fill="#000"/><rect x="849" y="258" width="5" height="11" fill="#000"/><rect x="850" y="259" width="3" height="9" fill="#40f040"/><rect x="855" y="249" width="1" height="16" fill="#000"/><rect x="853" y="249" width="5" height="4" fill="#000"/><rect x="854" y="250" width="3" height="2" fill="#f44646"/><rect x="859" y="252" width="1" height="17" fill="#000"/><rect x="857" y="252" width="5" height="17" fill="#000"/><rect x="858" y="253" width="3" height="15" fill="#f44646"/><rect x="863" y="250" width="1" height="33" fill="#000"/><rect x="861" y="263" width="5" height="16" fill="#000"/><rect x="862" y="264" width="3" height="14" fill="#f44646"/><rect x="867" y="266" width="1" height="17" fill="#000"/><rect x="865" y="266" width="5" height="3" fill="#000"/><rect x="866" y="267" width="3" height="1" fill="#40f040"/><rect x="871" y="253" width="1" height="13" fill="#000"/><rect x="869" y="253" width="5" height="4" fill="#000"/><rect x="870" y="254" width="3" height="2" fill="#f44646"/><rect x="875" y="226" width="1" height="32" fill="#000"/><rect x="873" y="247" width="5" height="3" fill="#000"/><rect x="874" y="248" width="3" height="1" fill="#40f040"/><rect x="880" y="236" width="1" height="13" fill="#000"/><rect x="878" y="241" width="5" height="8" fill="#000"/><rect x="879" y="242" width="3" height="6" fill="#f44646"/><rect x="884" y="236" width="1" height="7" fill="#000"/><rect x="882" y="237" width="5" height="6" fill="#000"/><rect x="883" y="238" width="3" height="4" fill="#f44646"/><rect x="888" y="228" width="1" height="21" fill="#000"/><rect x="886" y="228" width="5" height="21" fill="#000"/><rect x="887" y="229" width="3" height="19" fill="#f44646"/><rect x="892" y="249" width="1" height="5" fill="#000"/><rect x="890" y="251" width="5" height="2" fill="#000"/><rect x="896" y="204" width="1" height="46" fill="#000"/><rect x="894" y="211" width="5" height="29" fill="#000"/><rect x="895" y="212" width="3" height="27" fill="#40f040"/></g>
<line x1="0" y1="11.4" x2="980" y2="279.9" stroke="#ee1122" stroke-width="3.2" shape-rendering="crispEdges"/>
<line x1="797" y1="363.2" x2="980" y2="163.0" stroke="#9d44ac" stroke-width="3.2" shape-rendering="crispEdges"/>
<line x1="174" y1="246.5" x2="980" y2="246.5" stroke="#ff7a1a" stroke-width="3" shape-rendering="crispEdges"/>
<line x1="716" y1="225.5" x2="980" y2="225.5" stroke="#ff7a1a" stroke-width="1" shape-rendering="crispEdges"/>
<g shape-rendering="crispEdges"><rect x="3" y="489" width="3" height="28" fill="#bbbbbb"/><rect x="7" y="511" width="3" height="6" fill="#66d066"/><rect x="11" y="511" width="3" height="6" fill="#dd6666"/><rect x="15" y="510" width="3" height="7" fill="#66d066"/><rect x="19" y="512" width="3" height="5" fill="#dd6666"/><rect x="24" y="500" width="3" height="17" fill="#dd6666"/><rect x="28" y="514" width="3" height="3" fill="#dd6666"/><rect x="32" y="512" width="3" height="5" fill="#bbbbbb"/><rect x="36" y="512" width="3" height="5" fill="#dd6666"/><rect x="40" y="511" width="3" height="6" fill="#dd6666"/><rect x="44" y="514" width="3" height="3" fill="#dd6666"/><rect x="48" y="513" width="3" height="4" fill="#66d066"/><rect x="52" y="515" width="3" height="2" fill="#dd6666"/><rect x="56" y="507" width="3" height="10" fill="#66d066"/><rect x="60" y="503" width="3" height="14" fill="#dd6666"/><rect x="64" y="502" width="3" height="15" fill="#66d066"/><rect x="69" y="501" width="3" height="16" fill="#dd6666"/><rect x="73" y="498" width="3" height="19" fill="#66d066"/><rect x="77" y="502" width="3" height="15" fill="#bbbbbb"/><rect x="81" y="505" width="3" height="12" fill="#66d066"/><rect x="85" y="481" width="3" height="36" fill="#66d066"/><rect x="89" y="495" width="3" height="22" fill="#66d066"/><rect x="93" y="447" width="3" height="70" fill="#66d066"/><rect x="97" y="512" width="3" height="5" fill="#dd6666"/><rect x="101" y="511" width="3" height="6" fill="#dd6666"/><rect x="105" y="514" width="3" height="3" fill="#dd6666"/><rect x="109" y="514" width="3" height="3" fill="#bbbbbb"/><rect x="114" y="512" width="3" height="5" fill="#66d066"/><rect x="118" y="514" width="3" height="3" fill="#dd6666"/><rect x="122" y="512" width="3" height="5" fill="#bbbbbb"/><rect x="126" y="514" width="3" height="3" fill="#dd6666"/><rect x="130" y="512" width="3" height="5" fill="#dd6666"/><rect x="134" y="515" width="3" height="2" fill="#66d066"/><rect x="138" y="512" width="3" height="5" fill="#dd6666"/><rect x="142" y="510" width="3" height="7" fill="#dd6666"/><rect x="146" y="514" width="3" height="3" fill="#dd6666"/><rect x="150" y="508" width="3" height="9" fill="#66d066"/><rect x="154" y="514" width="3" height="3" fill="#dd6666"/><rect x="159" y="512" width="3" height="5" fill="#66d066"/><rect x="163" y="514" width="3" height="3" fill="#dd6666"/><rect x="167" y="510" width="3" height="7" fill="#66d066"/><rect x="171" y="516" width="3" height="1" fill="#66d066"/><rect x="175" y="504" width="3" height="13" fill="#dd6666"/><rect x="179" y="513" width="3" height="4" fill="#66d066"/><rect x="183" y="512" width="3" height="5" fill="#dd6666"/><rect x="187" y="515" width="3" height="2" fill="#dd6666"/><rect x="191" y="514" width="3" height="3" fill="#dd6666"/><rect x="195" y="513" width="3" height="4" fill="#dd6666"/><rect x="199" y="511" width="3" height="6" fill="#dd6666"/><rect x="204" y="509" width="3" height="8" fill="#66d066"/><rect x="208" y="504" width="3" height="13" fill="#66d066"/><rect x="212" y="513" width="3" height="4" fill="#66d066"/><rect x="216" y="513" width="3" height="4" fill="#dd6666"/><rect x="220" y="514" width="3" height="3" fill="#66d066"/><rect x="224" y="515" width="3" height="2" fill="#66d066"/><rect x="228" y="516" width="3" height="1" fill="#dd6666"/><rect x="232" y="515" width="3" height="2" fill="#dd6666"/><rect x="236" y="515" width="3" height="2" fill="#66d066"/><rect x="240" y="516" width="3" height="1" fill="#bbbbbb"/><rect x="244" y="516" width="3" height="1" fill="#66d066"/><rect x="249" y="514" width="3" height="3" fill="#dd6666"/><rect x="253" y="514" width="3" height="3" fill="#66d066"/><rect x="257" y="514" width="3" height="3" fill="#66d066"/><rect x="261" y="515" width="3" height="2" fill="#66d066"/><rect x="265" y="515" width="3" height="2" fill="#dd6666"/><rect x="269" y="516" width="3" height="1" fill="#66d066"/><rect x="273" y="515" width="3" height="2" fill="#dd6666"/><rect x="277" y="514" width="3" height="3" fill="#66d066"/><rect x="281" y="515" width="3" height="2" fill="#66d066"/><rect x="285" y="516" width="3" height="1" fill="#dd6666"/><rect x="289" y="516" width="3" height="1" fill="#dd6666"/><rect x="294" y="513" width="3" height="4" fill="#66d066"/><rect x="298" y="514" width="3" height="3" fill="#66d066"/><rect x="302" y="515" width="3" height="2" fill="#dd6666"/><rect x="306" y="515" width="3" height="2" fill="#dd6666"/><rect x="310" y="514" width="3" height="3" fill="#66d066"/><rect x="314" y="514" width="3" height="3" fill="#dd6666"/><rect x="318" y="514" width="3" height="3" fill="#dd6666"/><rect x="322" y="516" width="3" height="1" fill="#66d066"/><rect x="326" y="515" width="3" height="2" fill="#66d066"/><rect x="330" y="515" width="3" height="2" fill="#dd6666"/><rect x="334" y="514" width="3" height="3" fill="#66d066"/><rect x="339" y="513" width="3" height="4" fill="#dd6666"/><rect x="343" y="515" width="3" height="2" fill="#66d066"/><rect x="347" y="516" width="3" height="1" fill="#dd6666"/><rect x="351" y="515" width="3" height="2" fill="#66d066"/><rect x="355" y="514" width="3" height="3" fill="#66d066"/><rect x="359" y="514" width="3" height="3" fill="#bbbbbb"/><rect x="363" y="514" width="3" height="3" fill="#dd6666"/><rect x="367" y="512" width="3" height="5" fill="#66d066"/><rect x="371" y="515" width="3" height="2" fill="#dd6666"/><rect x="375" y="516" width="3" height="1" fill="#bbbbbb"/><rect x="379" y="514" width="3" height="3" fill="#66d066"/><rect x="384" y="516" width="3" height="1" fill="#bbbbbb"/><rect x="388" y="515" width="3" height="2" fill="#dd6666"/><rect x="392" y="508" width="3" height="9" fill="#66d066"/><rect x="396" y="514" width="3" height="3" fill="#dd6666"/><rect x="400" y="514" width="3" height="3" fill="#bbbbbb"/><rect x="404" y="509" width="3" height="8" fill="#dd6666"/><rect x="408" y="511" width="3" height="6" fill="#66d066"/><rect x="412" y="514" width="3" height="3" fill="#dd6666"/><rect x="416" y="515" width="3" height="2" fill="#dd6666"/><rect x="420" y="514" width="3" height="3" fill="#dd6666"/><rect x="424" y="514" width="3" height="3" fill="#66d066"/><rect x="429" y="515" width="3" height="2" fill="#66d066"/><rect x="433" y="506" width="3" height="11" fill="#66d066"/><rect x="437" y="514" width="3" height="3" fill="#dd6666"/><rect x="441" y="514" width="3" height="3" fill="#66d066"/><rect x="445" y="515" width="3" height="2" fill="#dd6666"/><rect x="449" y="516" width="3" height="1" fill="#dd6666"/><rect x="453" y="515" width="3" height="2" fill="#66d066"/><rect x="457" y="516" width="3" height="1" fill="#66d066"/><rect x="461" y="514" width="3" height="3" fill="#bbbbbb"/><rect x="465" y="513" width="3" height="4" fill="#66d066"/><rect x="469" y="515" width="3" height="2" fill="#66d066"/><rect x="474" y="515" width="3" height="2" fill="#66d066"/><rect x="478" y="515" width="3" height="2" fill="#dd6666"/><rect x="482" y="515" width="3" height="2" fill="#66d066"/><rect x="486" y="515" width="3" height="2" fill="#66d066"/><rect x="490" y="514" width="3" height="3" fill="#dd6666"/><rect x="494" y="511" width="3" height="6" fill="#dd6666"/><rect x="498" y="513" width="3" height="4" fill="#66d066"/><rect x="502" y="514" width="3" height="3" fill="#66d066"/><rect x="506" y="516" width="3" height="1" fill="#dd6666"/><rect x="510" y="515" width="3" height="2" fill="#66d066"/><rect x="514" y="515" width="3" height="2" fill="#66d066"/><rect x="519" y="503" width="3" height="14" fill="#dd6666"/><rect x="523" y="504" width="3" height="13" fill="#dd6666"/><rect x="527" y="507" width="3" height="10" fill="#dd6666"/><rect x="531" y="507" width="3" height="10" fill="#66d066"/><rect x="535" y="514" width="3" height="3" fill="#dd6666"/><rect x="539" y="510" width="3" height="7" fill="#dd6666"/><rect x="543" y="508" width="3" height="9" fill="#dd6666"/><rect x="547" y="511" width="3" height="6" fill="#66d066"/><rect x="551" y="510" width="3" height="7" fill="#dd6666"/><rect x="555" y="515" width="3" height="2" fill="#dd6666"/><rect x="559" y="496" width="3" height="21" fill="#dd6666"/><rect x="564" y="515" width="3" height="2" fill="#66d066"/><rect x="568" y="516" width="3" height="1" fill="#66d066"/><rect x="572" y="515" width="3" height="2" fill="#66d066"/><rect x="576" y="515" width="3" height="2" fill="#66d066"/><rect x="580" y="516" width="3" height="1" fill="#66d066"/><rect x="584" y="510" width="3" height="7" fill="#66d066"/><rect x="588" y="515" width="3" height="2" fill="#dd6666"/><rect x="592" y="515" width="3" height="2" fill="#dd6666"/><rect x="596" y="511" width="3" height="6" fill="#66d066"/><rect x="600" y="515" width="3" height="2" fill="#66d066"/><rect x="604" y="515" width="3" height="2" fill="#dd6666"/><rect x="609" y="509" width="3" height="8" fill="#dd6666"/><rect x="613" y="513" width="3" height="4" fill="#66d066"/><rect x="617" y="511" width="3" height="6" fill="#dd6666"/><rect x="621" y="514" width="3" height="3" fill="#66d066"/><rect x="625" y="508" width="3" height="9" fill="#dd6666"/><rect x="629" y="509" width="3" height="8" fill="#dd6666"/><rect x="633" y="514" width="3" height="3" fill="#66d066"/><rect x="637" y="508" width="3" height="9" fill="#66d066"/><rect x="641" y="510" width="3" height="7" fill="#dd6666"/><rect x="645" y="511" width="3" height="6" fill="#66d066"/><rect x="649" y="512" width="3" height="5" fill="#66d066"/><rect x="654" y="514" width="3" height="3" fill="#dd6666"/><rect x="658" y="511" width="3" height="6" fill="#66d066"/><rect x="662" y="512" width="3" height="5" fill="#66d066"/><rect x="666" y="515" width="3" height="2" fill="#dd6666"/><rect x="670" y="514" width="3" height="3" fill="#dd6666"/><rect x="674" y="511" width="3" height="6" fill="#66d066"/><rect x="678" y="511" width="3" height="6" fill="#dd6666"/><rect x="682" y="510" width="3" height="7" fill="#dd6666"/><rect x="686" y="514" width="3" height="3" fill="#66d066"/><rect x="690" y="512" width="3" height="5" fill="#dd6666"/><rect x="694" y="495" width="3" height="22" fill="#66d066"/><rect x="699" y="510" width="3" height="7" fill="#66d066"/><rect x="703" y="512" width="3" height="5" fill="#66d066"/><rect x="707" y="503" width="3" height="14" fill="#dd6666"/><rect x="711" y="513" width="3" height="4" fill="#dd6666"/><rect x="715" y="511" width="3" height="6" fill="#dd6666"/><rect x="719" y="513" width="3" height="4" fill="#66d066"/><rect x="723" y="512" width="3" height="5" fill="#dd6666"/><rect x="727" y="511" width="3" height="6" fill="#66d066"/><rect x="731" y="503" width="3" height="14" fill="#66d066"/><rect x="735" y="508" width="3" height="9" fill="#dd6666"/><rect x="739" y="513" width="3" height="4" fill="#dd6666"/><rect x="744" y="516" width="3" height="1" fill="#dd6666"/><rect x="748" y="500" width="3" height="17" fill="#dd6666"/><rect x="752" y="510" width="3" height="7" fill="#dd6666"/><rect x="756" y="512" width="3" height="5" fill="#66d066"/><rect x="760" y="506" width="3" height="11" fill="#dd6666"/><rect x="764" y="509" width="3" height="8" fill="#dd6666"/><rect x="768" y="513" width="3" height="4" fill="#dd6666"/><rect x="772" y="511" width="3" height="6" fill="#66d066"/><rect x="776" y="515" width="3" height="2" fill="#dd6666"/><rect x="780" y="515" width="3" height="2" fill="#dd6666"/><rect x="784" y="514" width="3" height="3" fill="#dd6666"/><rect x="789" y="513" width="3" height="4" fill="#dd6666"/><rect x="793" y="507" width="3" height="10" fill="#dd6666"/><rect x="797" y="510" width="3" height="7" fill="#66d066"/><rect x="801" y="515" width="3" height="2" fill="#66d066"/><rect x="805" y="515" width="3" height="2" fill="#dd6666"/><rect x="809" y="515" width="3" height="2" fill="#dd6666"/><rect x="813" y="515" width="3" height="2" fill="#dd6666"/><rect x="817" y="515" width="3" height="2" fill="#dd6666"/><rect x="821" y="512" width="3" height="5" fill="#bbbbbb"/><rect x="825" y="516" width="3" height="1" fill="#66d066"/><rect x="829" y="516" width="3" height="1" fill="#dd6666"/><rect x="834" y="515" width="3" height="2" fill="#66d066"/><rect x="838" y="511" width="3" height="6" fill="#dd6666"/><rect x="842" y="510" width="3" height="7" fill="#66d066"/><rect x="846" y="512" width="3" height="5" fill="#66d066"/><rect x="850" y="512" width="3" height="5" fill="#66d066"/><rect x="854" y="515" width="3" height="2" fill="#66d066"/><rect x="858" y="513" width="3" height="4" fill="#dd6666"/><rect x="862" y="515" width="3" height="2" fill="#dd6666"/><rect x="866" y="515" width="3" height="2" fill="#66d066"/><rect x="870" y="511" width="3" height="6" fill="#66d066"/><rect x="874" y="510" width="3" height="7" fill="#66d066"/><rect x="879" y="516" width="3" height="1" fill="#dd6666"/><rect x="883" y="516" width="3" height="1" fill="#66d066"/><rect x="887" y="515" width="3" height="2" fill="#dd6666"/><rect x="891" y="516" width="3" height="1" fill="#dd6666"/><rect x="895" y="505" width="3" height="12" fill="#66d066"/></g>
<g shape-rendering="crispEdges"><rect x="3" y="571" width="3" height="1" fill="#007400"/><rect x="7" y="570" width="3" height="2" fill="#007400"/><rect x="11" y="569" width="3" height="3" fill="#007400"/><rect x="15" y="568" width="3" height="4" fill="#007400"/><rect x="19" y="568" width="3" height="4" fill="#007400"/><rect x="24" y="569" width="3" height="3" fill="#007400"/><rect x="28" y="570" width="3" height="2" fill="#007400"/><rect x="32" y="570" width="3" height="2" fill="#007400"/><rect x="36" y="571" width="3" height="1" fill="#007400"/><rect x="40" y="571" width="3" height="2" fill="#007400"/><rect x="44" y="571" width="3" height="2" fill="#007400"/><rect x="48" y="571" width="3" height="3" fill="#007400"/><rect x="52" y="571" width="3" height="4" fill="#007400"/><rect x="56" y="571" width="3" height="5" fill="#007400"/><rect x="60" y="571" width="3" height="6" fill="#007400"/><rect x="64" y="571" width="3" height="7" fill="#007400"/><rect x="69" y="571" width="3" height="6" fill="#007400"/><rect x="73" y="571" width="3" height="5" fill="#007400"/><rect x="77" y="571" width="3" height="5" fill="#007400"/><rect x="81" y="571" width="3" height="3" fill="#007400"/><rect x="85" y="571" width="3" height="2" fill="#007400"/><rect x="89" y="571" width="3" height="1" fill="#007400"/><rect x="93" y="568" width="3" height="4" fill="#007400"/><rect x="97" y="570" width="3" height="2" fill="#007400"/><rect x="101" y="571" width="3" height="4" fill="#007400"/><rect x="105" y="571" width="3" height="8" fill="#007400"/><rect x="109" y="571" width="3" height="10" fill="#007400"/><rect x="114" y="571" width="3" height="9" fill="#007400"/><rect x="118" y="571" width="3" height="9" fill="#007400"/><rect x="122" y="571" width="3" height="9" fill="#007400"/><rect x="126" y="571" width="3" height="8" fill="#007400"/><rect x="130" y="571" width="3" height="8" fill="#007400"/><rect x="134" y="571" width="3" height="8" fill="#007400"/><rect x="138" y="571" width="3" height="8" fill="#007400"/><rect x="142" y="571" width="3" height="8" fill="#007400"/><rect x="146" y="571" width="3" height="9" fill="#007400"/><rect x="150" y="571" width="3" height="8" fill="#007400"/><rect x="154" y="571" width="3" height="9" fill="#007400"/><rect x="159" y="571" width="3" height="7" fill="#007400"/><rect x="163" y="571" width="3" height="7" fill="#007400"/><rect x="167" y="571" width="3" height="6" fill="#007400"/><rect x="171" y="571" width="3" height="3" fill="#007400"/><rect x="175" y="571" width="3" height="7" fill="#007400"/><rect x="179" y="571" width="3" height="7" fill="#007400"/><rect x="183" y="571" width="3" height="7" fill="#007400"/><rect x="187" y="571" width="3" height="7" fill="#007400"/><rect x="191" y="571" width="3" height="6" fill="#007400"/><rect x="195" y="571" width="3" height="10" fill="#007400"/><rect x="199" y="571" width="3" height="13" fill="#007400"/><rect x="204" y="571" width="3" height="13" fill="#007400"/><rect x="208" y="571" width="3" height="10" fill="#007400"/><rect x="212" y="571" width="3" height="6" fill="#007400"/><rect x="216" y="571" width="3" height="3" fill="#007400"/><rect x="220" y="571" width="3" height="1" fill="#007400"/><rect x="224" y="568" width="3" height="4" fill="#007400"/><rect x="228" y="567" width="3" height="5" fill="#007400"/><rect x="232" y="566" width="3" height="6" fill="#007400"/><rect x="236" y="565" width="3" height="7" fill="#007400"/><rect x="240" y="564" width="3" height="8" fill="#007400"/><rect x="244" y="563" width="3" height="9" fill="#007400"/><rect x="249" y="563" width="3" height="9" fill="#007400"/><rect x="253" y="562" width="3" height="10" fill="#007400"/><rect x="257" y="562" width="3" height="10" fill="#007400"/><rect x="261" y="561" width="3" height="11" fill="#007400"/><rect x="265" y="561" width="3" height="11" fill="#007400"/><rect x="269" y="561" width="3" height="11" fill="#007400"/><rect x="273" y="562" width="3" height="10" fill="#007400"/><rect x="277" y="563" width="3" height="9" fill="#007400"/><rect x="281" y="562" width="3" height="10" fill="#007400"/><rect x="285" y="563" width="3" height="9" fill="#007400"/><rect x="289" y="564" width="3" height="8" fill="#007400"/><rect x="294" y="563" width="3" height="9" fill="#007400"/><rect x="298" y="563" width="3" height="9" fill="#007400"/><rect x="302" y="564" width="3" height="8" fill="#007400"/><rect x="306" y="564" width="3" height="8" fill="#007400"/><rect x="310" y="565" width="3" height="7" fill="#007400"/><rect x="314" y="565" width="3" height="7" fill="#007400"/><rect x="318" y="566" width="3" height="6" fill="#007400"/><rect x="322" y="566" width="3" height="6" fill="#007400"/><rect x="326" y="566" width="3" height="6" fill="#007400"/><rect x="330" y="567" width="3" height="5" fill="#007400"/><rect x="334" y="567" width="3" height="5" fill="#007400"/><rect x="339" y="567" width="3" height="5" fill="#007400"/><rect x="343" y="567" width="3" height="5" fill="#007400"/><rect x="347" y="568" width="3" height="4" fill="#007400"/><rect x="351" y="568" width="3" height="4" fill="#007400"/><rect x="355" y="568" width="3" height="4" fill="#007400"/><rect x="359" y="568" width="3" height="4" fill="#007400"/><rect x="363" y="568" width="3" height="4" fill="#007400"/><rect x="367" y="568" width="3" height="4" fill="#007400"/><rect x="371" y="569" width="3" height="3" fill="#007400"/><rect x="375" y="570" width="3" height="2" fill="#007400"/><rect x="379" y="570" width="3" height="2" fill="#007400"/><rect x="384" y="570" width="3" height="2" fill="#007400"/><rect x="388" y="570" width="3" height="2" fill="#007400"/><rect x="392" y="570" width="3" height="2" fill="#007400"/><rect x="396" y="570" width="3" height="2" fill="#007400"/><rect x="400" y="571" width="3" height="1" fill="#007400"/><rect x="404" y="571" width="3" height="1" fill="#007400"/><rect x="408" y="571" width="3" height="3" fill="#007400"/><rect x="412" y="571" width="3" height="3" fill="#007400"/><rect x="416" y="571" width="3" height="3" fill="#007400"/><rect x="420" y="571" width="3" height="5" fill="#007400"/><rect x="424" y="571" width="3" height="5" fill="#007400"/><rect x="429" y="571" width="3" height="3" fill="#007400"/><rect x="433" y="571" width="3" height="3" fill="#007400"/><rect x="437" y="571" width="3" height="1" fill="#007400"/><rect x="441" y="569" width="3" height="3" fill="#007400"/><rect x="445" y="568" width="3" height="4" fill="#007400"/><rect x="449" y="568" width="3" height="4" fill="#007400"/><rect x="453" y="567" width="3" height="5" fill="#007400"/><rect x="457" y="567" width="3" height="5" fill="#007400"/><rect x="461" y="567" width="3" height="5" fill="#007400"/><rect x="465" y="567" width="3" height="5" fill="#007400"/><rect x="469" y="567" width="3" height="5" fill="#007400"/><rect x="474" y="567" width="3" height="5" fill="#007400"/><rect x="478" y="568" width="3" height="4" fill="#007400"/><rect x="482" y="568" width="3" height="4" fill="#007400"/><rect x="486" y="568" width="3" height="4" fill="#007400"/><rect x="490" y="568" width="3" height="4" fill="#007400"/><rect x="494" y="570" width="3" height="2" fill="#007400"/><rect x="498" y="570" width="3" height="2" fill="#007400"/><rect x="502" y="570" width="3" height="2" fill="#007400"/><rect x="506" y="569" width="3" height="3" fill="#007400"/><rect x="510" y="568" width="3" height="4" fill="#007400"/><rect x="514" y="567" width="3" height="5" fill="#007400"/><rect x="519" y="567" width="3" height="5" fill="#007400"/><rect x="523" y="569" width="3" height="3" fill="#007400"/><rect x="527" y="571" width="3" height="1" fill="#007400"/><rect x="531" y="571" width="3" height="2" fill="#007400"/><rect x="535" y="571" width="3" height="3" fill="#007400"/><rect x="539" y="571" width="3" height="3" fill="#007400"/><rect x="543" y="571" width="3" height="3" fill="#007400"/><rect x="547" y="571" width="3" height="4" fill="#007400"/><rect x="551" y="571" width="3" height="5" fill="#007400"/><rect x="555" y="571" width="3" height="5" fill="#007400"/><rect x="559" y="571" width="3" height="5" fill="#007400"/><rect x="564" y="571" width="3" height="4" fill="#007400"/><rect x="568" y="571" width="3" height="3" fill="#007400"/><rect x="572" y="571" width="3" height="3" fill="#007400"/><rect x="576" y="571" width="3" height="1" fill="#007400"/><rect x="580" y="570" width="3" height="2" fill="#007400"/><rect x="584" y="569" width="3" height="3" fill="#007400"/><rect x="588" y="569" width="3" height="3" fill="#007400"/><rect x="592" y="569" width="3" height="3" fill="#007400"/><rect x="596" y="569" width="3" height="3" fill="#007400"/><rect x="600" y="569" width="3" height="3" fill="#007400"/><rect x="604" y="570" width="3" height="2" fill="#007400"/><rect x="609" y="571" width="3" height="1" fill="#007400"/><rect x="613" y="571" width="3" height="3" fill="#007400"/><rect x="617" y="571" width="3" height="3" fill="#007400"/><rect x="621" y="571" width="3" height="3" fill="#007400"/><rect x="625" y="571" width="3" height="3" fill="#007400"/><rect x="629" y="571" width="3" height="3" fill="#007400"/><rect x="633" y="571" width="3" height="3" fill="#007400"/><rect x="637" y="571" width="3" height="3" fill="#007400"/><rect x="641" y="571" width="3" height="1" fill="#007400"/><rect x="645" y="571" width="3" height="1" fill="#007400"/><rect x="649" y="571" width="3" height="1" fill="#007400"/><rect x="654" y="570" width="3" height="2" fill="#007400"/><rect x="658" y="570" width="3" height="2" fill="#007400"/><rect x="662" y="569" width="3" height="3" fill="#007400"/><rect x="666" y="569" width="3" height="3" fill="#007400"/><rect x="670" y="570" width="3" height="2" fill="#007400"/><rect x="674" y="570" width="3" height="2" fill="#007400"/><rect x="678" y="571" width="3" height="1" fill="#007400"/><rect x="682" y="571" width="3" height="3" fill="#007400"/><rect x="686" y="571" width="3" height="3" fill="#007400"/><rect x="690" y="571" width="3" height="3" fill="#007400"/><rect x="694" y="571" width="3" height="1" fill="#007400"/><rect x="699" y="571" width="3" height="1" fill="#007400"/><rect x="703" y="569" width="3" height="3" fill="#007400"/><rect x="707" y="569" width="3" height="3" fill="#007400"/><rect x="711" y="570" width="3" height="2" fill="#007400"/><rect x="715" y="570" width="3" height="2" fill="#007400"/><rect x="719" y="571" width="3" height="1" fill="#007400"/><rect x="723" y="571" width="3" height="3" fill="#007400"/><rect x="727" y="571" width="3" height="1" fill="#007400"/><rect x="731" y="571" width="3" height="1" fill="#007400"/><rect x="735" y="571" width="3" height="1" fill="#007400"/><rect x="739" y="571" width="3" height="1" fill="#007400"/><rect x="744" y="571" width="3" height="3" fill="#007400"/><rect x="748" y="571" width="3" height="3" fill="#007400"/><rect x="752" y="571" width="3" height="4" fill="#007400"/><rect x="756" y="571" width="3" height="4" fill="#007400"/><rect x="760" y="571" width="3" height="5" fill="#007400"/><rect x="764" y="571" width="3" height="6" fill="#007400"/><rect x="768" y="571" width="3" height="6" fill="#007400"/><rect x="772" y="571" width="3" height="5" fill="#007400"/><rect x="776" y="571" width="3" height="4" fill="#007400"/><rect x="780" y="571" width="3" height="4" fill="#007400"/><rect x="784" y="571" width="3" height="4" fill="#007400"/><rect x="789" y="571" width="3" height="3" fill="#007400"/><rect x="793" y="571" width="3" height="3" fill="#007400"/><rect x="797" y="570" width="3" height="2" fill="#007400"/><rect x="801" y="568" width="3" height="4" fill="#007400"/><rect x="805" y="567" width="3" height="5" fill="#007400"/><rect x="809" y="567" width="3" height="5" fill="#007400"/><rect x="813" y="567" width="3" height="5" fill="#007400"/><rect x="817" y="567" width="3" height="5" fill="#007400"/><rect x="821" y="567" width="3" height="5" fill="#007400"/><rect x="825" y="567" width="3" height="5" fill="#007400"/><rect x="829" y="567" width="3" height="5" fill="#007400"/><rect x="834" y="567" width="3" height="5" fill="#007400"/><rect x="838" y="567" width="3" height="5" fill="#007400"/><rect x="842" y="565" width="3" height="7" fill="#007400"/><rect x="846" y="564" width="3" height="8" fill="#007400"/><rect x="850" y="562" width="3" height="10" fill="#007400"/><rect x="854" y="561" width="3" height="11" fill="#007400"/><rect x="858" y="562" width="3" height="10" fill="#007400"/><rect x="862" y="564" width="3" height="8" fill="#007400"/><rect x="866" y="564" width="3" height="8" fill="#007400"/><rect x="870" y="564" width="3" height="8" fill="#007400"/><rect x="874" y="564" width="3" height="8" fill="#007400"/><rect x="879" y="565" width="3" height="7" fill="#007400"/><rect x="883" y="565" width="3" height="7" fill="#007400"/><rect x="887" y="565" width="3" height="7" fill="#007400"/><rect x="891" y="567" width="3" height="5" fill="#007400"/><rect x="895" y="565" width="3" height="7" fill="#007400"/></g>
<polyline points="4.0,571.2 14.3,569.4 28.7,566.9 48.7,568.7 61.6,572.2 75.9,577.0 88.8,577.5 98.9,577.0 110.3,581.5 124.6,588.7 136.0,593.0 150.9,599.7 162.9,605.7 171.8,607.9 180.8,611.6 193.5,616.4 200.2,621.3 207.6,626.3 215.1,628.4 222.6,628.8 231.5,626.9 243.5,622.8 255.4,616.9 265.9,610.1 272.0,607.2 286.9,598.2 301.9,591.5 316.8,587.0 331.7,583.3 346.6,579.6 361.6,577.3 376.5,575.8 391.4,575.4 401.9,575.4 408.0,575.8 422.9,579.6 434.9,581.5 449.8,578.1 467.7,574.6 482.6,572.1 497.6,570.6 512.5,568.7 524.4,567.3 534.9,568.4 548.0,570.6 558.9,574.0 573.9,576.6 588.8,575.5 602.2,574.0 612.7,575.5 627.6,578.1 641.0,580.0 655.9,579.6 670.9,578.8 684.0,579.6 694.9,580.6 709.9,579.6 724.8,580.3 742.7,581.0 754.6,583.3 769.6,589.0 784.5,593.0 794.9,594.5 806.9,591.5 820.0,588.1 829.9,584.5 844.8,578.5 859.7,571.8 874.6,566.6 889.6,561.7 896.7,559.6" fill="none" stroke="#ff22ff" stroke-width="1.2" stroke-linejoin="round" />
<polyline points="4.0,571.2 8.6,569.4 14.3,568.0 20.0,565.1 27.2,565.5 37.2,567.2 48.7,570.1 60.2,575.8 70.2,580.1 80.2,580.1 88.8,577.5 94.6,574.4 98.9,575.5 106.0,585.8 111.0,590.1 118.9,594.4 128.9,598.7 136.0,600.4 147.9,606.4 155.4,610.9 164.4,612.8 171.8,610.9 176.3,616.1 183.8,619.1 192.0,621.3 195.7,626.6 200.9,634.0 206.1,636.3 209.9,635.8 218.1,631.0 225.6,625.8 234.5,621.3 243.5,616.1 255.4,609.4 264.4,603.4 270.3,598.2 276.0,596.4 278.0,596.0 286.2,591.5 290.7,590.7 298.9,586.6 307.8,583.7 315.3,582.2 324.2,580.6 336.2,578.1 343.6,576.3 349.6,577.0 358.6,575.1 369.0,574.6 383.9,575.1 400.4,575.4 406.3,577.3 412.0,578.5 417.0,580.3 425.9,584.0 431.9,584.0 437.9,582.2 443.8,578.8 452.8,575.8 464.7,572.8 475.2,570.9 487.1,569.9 494.6,570.6 500.5,570.6 511.0,568.4 517.0,564.3 520.7,564.2 527.4,568.1 534.9,569.9 542.3,572.5 548.0,574.3 554.4,576.6 564.9,579.6 573.9,578.8 584.3,575.1 593.3,574.0 602.2,572.8 609.7,575.8 618.6,578.8 629.1,581.5 641.0,581.5 651.5,580.0 664.9,577.6 673.9,578.5 680.0,579.1 684.5,581.5 691.9,583.3 699.4,581.5 706.9,578.1 718.8,579.6 724.8,582.2 729.3,582.2 735.2,580.3 739.7,580.6 748.7,584.0 757.6,588.5 769.6,594.9 781.5,596.4 794.9,596.4 800.0,592.7 804.5,589.0 810.4,585.3 819.4,583.8 829.9,580.8 843.3,576.0 849.3,571.8 855.2,565.9 862.7,564.4 868.7,563.6 877.6,559.9 885.1,557.6 892.5,557.2 896.7,553.6" fill="none" stroke="#1414ff" stroke-width="1.2" stroke-linejoin="round" />
</svg></body></html>
